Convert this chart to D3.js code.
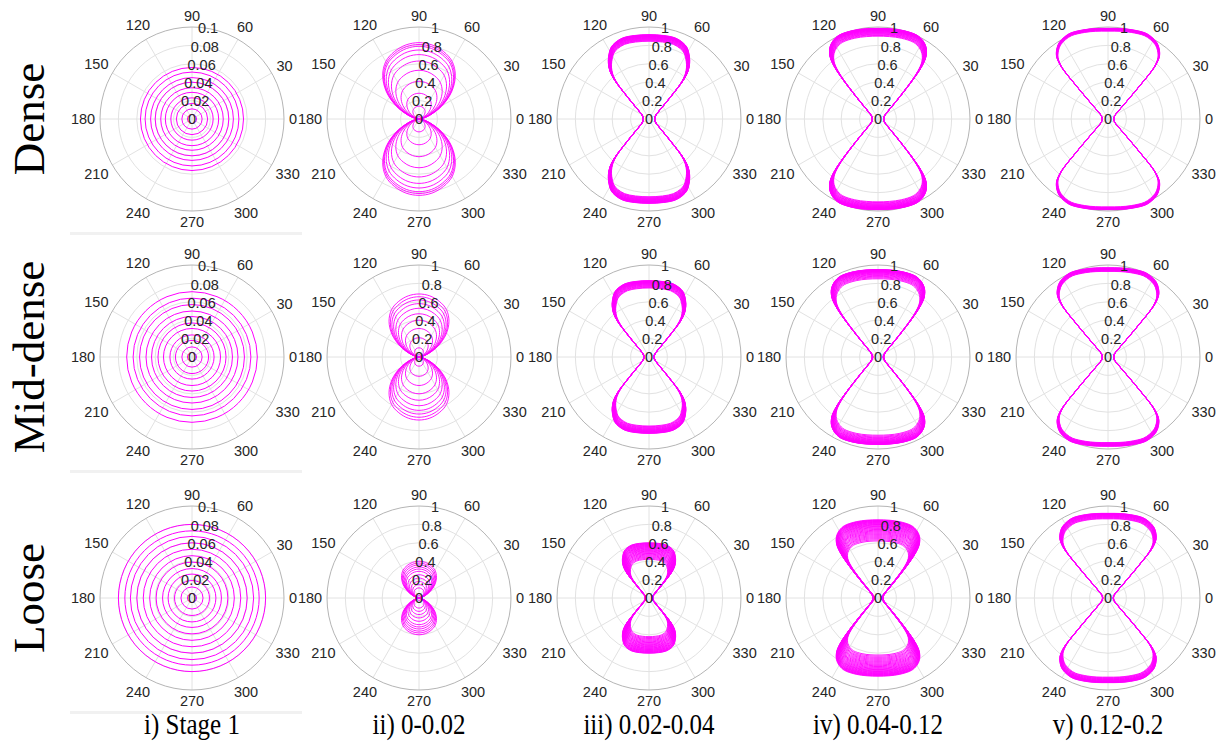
<!DOCTYPE html>
<html>
<head>
<meta charset="utf-8">
<script src="https://cdnjs.cloudflare.com/ajax/libs/d3/7.8.5/d3.min.js"></script>
<style>
    body { margin: 0; background: #fff; }
    svg { display: block; }
</style>
</head>
<body>
<div id="plotRegi"></div>
<script>
/*d3*/

// Labels
const rowNames = ["Dense", "Mid-dense", "Loose"]
const colNames = ["i) Stage 1", "ii) 0-0.02", "iii) 0.02-0.04", "iv) 0.04-0.12", "v) 0.12-0.2"]

// Axis ticks
const thetaTicks = [0, 30, 60, 90, 120, 150, 180, 210, 240, 270, 300, 330]
const rTicksStage = [0, 0.02, 0.04, 0.06, 0.08, 0.1]
const rTicksStrain = [0, 0.2, 0.4, 0.6, 0.8, 1]
const rLabelAngle = 80

// Stage 1: concentric circles (radius values)
const ringsDense = [0.005, 0.011, 0.017, 0.023, 0.029, 0.034, 0.040, 0.045, 0.051, 0.056]
const ringsMid = [0.005, 0.011, 0.018, 0.024, 0.031, 0.037, 0.044, 0.050, 0.057, 0.064, 0.071]
const ringsLoose = [0.005, 0.012, 0.019, 0.026, 0.032, 0.039, 0.046, 0.053, 0.060, 0.067, 0.073, 0.080]

// 0-0.02: lobe peak values (r at 90 deg)
const lobesDense = [0.03, 0.14, 0.28, 0.41, 0.53, 0.63, 0.70, 0.75, 0.79, 0.81, 0.83]
const lobesMid = [0.03, 0.10, 0.21, 0.31, 0.40, 0.47, 0.53, 0.58, 0.62, 0.655, 0.685]
const lobesLoose = [0.03, 0.11, 0.145, 0.18, 0.217, 0.253, 0.29, 0.315, 0.337, 0.36, 0.38, 0.40]

// 0.02-0.04: peak values
const band3Dense = [0.845, 0.851, 0.857, 0.862, 0.867, 0.872, 0.877, 0.881, 0.885, 0.889, 0.893, 0.896, 0.899, 0.902, 0.905, 0.908, 0.910, 0.912, 0.915, 0.917]
const band3Mid = [0.750, 0.757, 0.764, 0.770, 0.776, 0.782, 0.787, 0.792, 0.797, 0.801, 0.805, 0.809, 0.812, 0.815, 0.818, 0.821, 0.824, 0.826, 0.828, 0.830]
const band3Loose = [0.420, 0.430, 0.440, 0.449, 0.458, 0.467, 0.476, 0.484, 0.492, 0.500, 0.508, 0.515, 0.522, 0.529, 0.536, 0.542, 0.548, 0.554, 0.560, 0.566, 0.571, 0.577, 0.582, 0.587, 0.592, 0.597, 0.600]

// 0.04-0.12: peak values
const band4Dense = [0.900, 0.908, 0.915, 0.922, 0.928, 0.934, 0.940, 0.945, 0.950, 0.954, 0.958, 0.962, 0.965, 0.968, 0.971, 0.974, 0.976, 0.978, 0.980, 0.982, 0.984, 0.985]
const band4Mid = [0.850, 0.860, 0.869, 0.877, 0.885, 0.892, 0.899, 0.905, 0.911, 0.916, 0.921, 0.925, 0.929, 0.933, 0.936, 0.939, 0.942, 0.944, 0.946, 0.948, 0.949, 0.950]
const band4Loose = [0.620, 0.632, 0.644, 0.655, 0.666, 0.677, 0.688, 0.698, 0.708, 0.718, 0.727, 0.736, 0.745, 0.754, 0.762, 0.770, 0.778, 0.785, 0.792, 0.799, 0.805, 0.811, 0.817, 0.822, 0.827, 0.832, 0.837, 0.841, 0.845, 0.850]

// 0.12-0.2: peak values
const band5Dense = [0.955, 0.959, 0.963, 0.966, 0.969, 0.972, 0.975, 0.977, 0.979, 0.981, 0.983, 0.985]
const band5Mid = [0.930, 0.934, 0.938, 0.942, 0.945, 0.948, 0.951, 0.954, 0.957, 0.960, 0.963, 0.965, 0.968, 0.970]
const band5Loose = [0.860, 0.866, 0.872, 0.877, 0.882, 0.887, 0.891, 0.895, 0.899, 0.903, 0.906, 0.909, 0.912, 0.915, 0.918, 0.920]

// Quarter outlines (angle from horizontal, r / peak)
const lobeAngles = [0, 10, 20, 30, 40, 50, 60, 70, 80, 90]
const lobeShape = [0, 0.05, 0.16, 0.35, 0.56, 0.74, 0.87, 0.94, 0.985, 1]
const band3Angles = [0, 15, 30, 38, 43, 46, 48.5, 51, 54, 57, 62, 66, 72, 80, 90]
const band3Shape = [0.07, 0.075, 0.1, 0.15, 0.25, 0.4, 0.62, 0.74, 0.82, 0.88, 0.96, 0.99, 1.01, 1.005, 1]
const band4Angles = [0, 15, 30, 38, 43, 46, 48.6, 50.3, 52.5, 56, 60, 65, 74, 82, 90]
const band4Shape = [0.065, 0.07, 0.095, 0.145, 0.24, 0.38, 0.61, 0.76, 0.87, 0.95, 0.995, 1.02, 1.015, 1.005, 1]
const band5Angles = [0, 15, 30, 37, 41.5, 44.5, 46, 46.8, 47.5, 48.5, 50.8, 54, 57.3, 62, 66.5, 75, 82, 90]
const band5Shape = [0.065, 0.07, 0.095, 0.14, 0.22, 0.35, 0.48, 0.58, 0.7, 0.8, 0.9, 0.96, 1.0, 1.025, 1.035, 1.02, 1.008, 1]

// Panel table built from the arrays above
const panelData = [
    [ringsDense, lobesDense, band3Dense, band4Dense, band5Dense],
    [ringsMid, lobesMid, band3Mid, band4Mid, band5Mid],
    [ringsLoose, lobesLoose, band3Loose, band4Loose, band5Loose]
]
const colShapes = [null, [lobeAngles, lobeShape], [band3Angles, band3Shape], [band4Angles, band4Shape], [band5Angles, band5Shape]]

// Layout
const W = 1220, H = 742
const R = 92
const colX = [192, 419, 649, 878, 1108]
const rowY = [119, 357, 598]
const magenta = "#ff00ff"
const textColor = "#262626"
const tickFont = "'Liberation Sans', Arial, sans-serif"

const svg = d3
    .select("#plotRegi")
    .append("svg")
    .attr("width", W)
    .attr("height", H)

const rad = a => a * Math.PI / 180

// Closed outline from a quarter profile, mirrored in both axes
function fullOutline(angles, shape, peak) {
    const pts = []
    const n = angles.length
    for (let i = 0; i < n; i++) pts.push([angles[i], shape[i] * peak])
    for (let i = n - 2; i >= 0; i--) pts.push([180 - angles[i], shape[i] * peak])
    for (let i = 1; i < n; i++) pts.push([180 + angles[i], shape[i] * peak])
    for (let i = n - 2; i >= 1; i--) pts.push([360 - angles[i], shape[i] * peak])
    return pts
}

// distance of a theta label centre from the pole
function labelOffset(d) {
    const w = String(d).length * 8
    return R + 5 + Math.abs(Math.cos(rad(d))) * w / 2 + Math.abs(Math.sin(rad(d))) * 6
}

function drawPanel(row, col) {
    const cx = colX[col], cy = rowY[row]
    const ticks = col === 0 ? rTicksStage : rTicksStrain
    const rMax = ticks[ticks.length - 1]
    const rScale = d3.scaleLinear().domain([0, rMax]).range([0, R])

    const g = svg.append("g")
        .attr("class", "panel")
        .attr("transform", "translate(" + cx + "," + cy + ")")

    // Grid: spokes
    g.append("g")
        .selectAll("line")
        .data(thetaTicks)
        .enter()
        .append("line")
        .attr("x1", 0).attr("y1", 0)
        .attr("x2", d => rScale(rMax) * Math.cos(rad(d)))
        .attr("y2", d => -rScale(rMax) * Math.sin(rad(d)))
        .style("stroke", "#e2e2e2")
        .style("stroke-width", 1)

    // Grid: rings
    g.append("g")
        .selectAll("circle")
        .data(ticks.slice(1))
        .enter()
        .append("circle")
        .attr("r", d => rScale(d))
        .style("fill", "none")
        .style("stroke", (d, i) => i === ticks.length - 2 ? "#b5b5b5" : "#e2e2e2")
        .style("stroke-width", 1)

    // Data
    const curves = g.append("g")
    const vals = panelData[row][col]
    if (col === 0) {
        curves.selectAll("circle")
            .data(vals)
            .enter()
            .append("circle")
            .attr("r", d => rScale(d))
            .style("fill", "none")
            .style("stroke", magenta)
            .style("stroke-width", 1)
    } else {
        const [angles, shape] = colShapes[col]
        const line = d3.lineRadial()
            .angle(d => rad(90 - d[0]))
            .radius(d => rScale(d[1]))
            .curve(d3.curveCatmullRomClosed.alpha(0.5))
        curves.selectAll("path")
            .data(vals)
            .enter()
            .append("path")
            .attr("d", d => line(fullOutline(angles, shape, d)))
            .style("fill", "none")
            .style("stroke", magenta)
            .style("stroke-width", 0.9)
    }

    // Theta labels
    g.append("g")
        .selectAll("text")
        .data(thetaTicks)
        .enter()
        .append("text")
        .text(d => d)
        .attr("x", d => labelOffset(d) * Math.cos(rad(d)))
        .attr("y", d => -labelOffset(d) * Math.sin(rad(d)))
        .attr("text-anchor", "middle")
        .attr("dominant-baseline", "central")
        .style("font-family", tickFont)
        .style("font-size", "14.5px")
        .style("fill", textColor)

    // R labels
    g.append("g")
        .selectAll("text")
        .data(ticks)
        .enter()
        .append("text")
        .text(d => d)
        .attr("x", d => rScale(d) * Math.cos(rad(rLabelAngle)))
        .attr("y", d => -rScale(d) * Math.sin(rad(rLabelAngle)))
        .attr("text-anchor", "middle")
        .attr("dominant-baseline", "central")
        .style("font-family", tickFont)
        .style("font-size", "14.5px")
        .style("fill", textColor)
}

// Faint strip under the Stage 1 panels
svg.append("g")
    .selectAll("rect")
    .data(rowNames)
    .enter()
    .append("rect")
    .attr("x", 70)
    .attr("y", (d, i) => rowY[i] + 113)
    .attr("width", 232)
    .attr("height", 3)
    .style("fill", "#f1f1f1")

for (let r = 0; r < 3; r++) {
    for (let c = 0; c < 5; c++) drawPanel(r, c)
}

// Row labels
svg.append("g")
    .selectAll("text")
    .data(rowNames)
    .enter()
    .append("text")
    .text(d => d)
    .attr("transform", (d, i) => "translate(44," + rowY[i] + ") rotate(-90)")
    .attr("text-anchor", "middle")
    .style("font-family", "'Liberation Serif', 'Times New Roman', serif")
    .style("font-size", "45px")
    .style("fill", "#000")

// Column labels
svg.append("g")
    .selectAll("text")
    .data(colNames)
    .enter()
    .append("text")
    .text(d => d)
    .attr("transform", (d, i) => "translate(" + colX[i] + ",734) scale(1,1.18)")
    .attr("text-anchor", "middle")
    .style("font-family", "'Liberation Serif', 'Times New Roman', serif")
    .style("font-size", "25px")
    .style("fill", "#000")
</script>
</body>
</html>
